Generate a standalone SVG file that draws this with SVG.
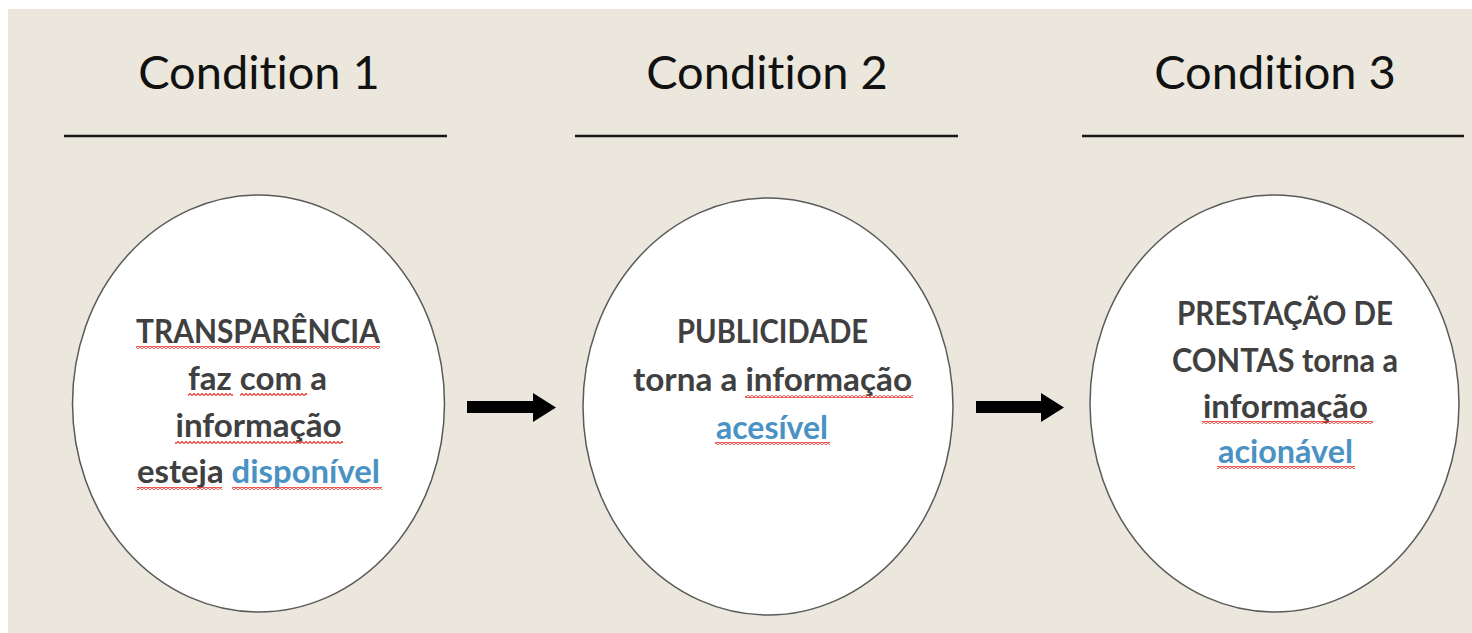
<svg xmlns="http://www.w3.org/2000/svg" width="1472" height="633" viewBox="0 0 1472 633">
  <defs>
    <style>
      .title { font-family: Lato, "Liberation Sans", sans-serif; font-size: 47px; fill: #111; text-anchor: middle; font-variant-ligatures: none; }
      .rule { stroke: #161616; stroke-width: 2.5; }
      .circle { fill: #ffffff; stroke: #5a5a5a; stroke-width: 1.5; }
      .body { font-family: Lato, "Liberation Sans", sans-serif; font-weight: bold; font-size: 33px; fill: #404040; text-anchor: middle; font-variant-ligatures: none; }
      .blue { fill: #4a92c4; }
      .arrow { fill: #000; }
      .sq { fill: url(#squig); }
    </style>
    <pattern id="squig" x="0" y="0" width="4" height="3" patternUnits="userSpaceOnUse">
      <path d="M0,2.5 L2,0.5 L4,2.5" fill="none" stroke="#e8312a" stroke-width="1.1"/>
    </pattern>
  </defs>

  <rect x="0" y="0" width="1472" height="633" fill="#ffffff"/>
  <rect x="8" y="9" width="1464" height="624" fill="#ebe7dc"/>

  <g id="header-1">
    <text class="title" x="259" y="89">Condition 1</text>
    <line class="rule" x1="64" y1="136" x2="447" y2="136"/>
  </g>
  <g id="header-2">
    <text class="title" x="767" y="89">Condition 2</text>
    <line class="rule" x1="575" y1="136" x2="958" y2="136"/>
  </g>
  <g id="header-3">
    <text class="title" x="1275" y="89">Condition 3</text>
    <line class="rule" x1="1082" y1="136" x2="1464" y2="136"/>
  </g>

  <g id="node-transparencia">
    <ellipse class="circle" cx="258.5" cy="403.5" rx="186" ry="208.5"/>
    <text class="body" x="258" y="343" textLength="244" lengthAdjust="spacingAndGlyphs">TRANSPARÊNCIA</text>
    <text class="body" x="257.5" y="390" textLength="139" lengthAdjust="spacingAndGlyphs">faz com a</text>
    <text class="body" x="258.5" y="437" textLength="166" lengthAdjust="spacingAndGlyphs">informação</text>
    <text class="body" x="258.5" y="483" textLength="243" lengthAdjust="spacingAndGlyphs">esteja <tspan class="blue">disponível</tspan></text>
    <rect class="sq" x="136" y="346" width="244" height="3"/>
    <rect class="sq" x="188" y="393" width="45" height="3"/>
    <rect class="sq" x="240" y="393" width="67" height="3"/>
    <rect class="sq" x="175" y="441" width="168" height="3"/>
    <rect class="sq" x="137" y="487" width="85" height="3"/>
    <rect class="sq" x="232" y="487" width="150" height="3"/>
  </g>

  <g id="node-publicidade">
    <ellipse class="circle" cx="768" cy="406.5" rx="185" ry="208.5"/>
    <text class="body" x="772.5" y="343" textLength="191" lengthAdjust="spacingAndGlyphs">PUBLICIDADE</text>
    <text class="body" x="772.5" y="391" textLength="279" lengthAdjust="spacingAndGlyphs">torna a informação</text>
    <text class="body blue" x="772" y="439" textLength="112" lengthAdjust="spacingAndGlyphs">acesível</text>
    <rect class="sq" x="745" y="395" width="168" height="3"/>
    <rect class="sq" x="715" y="442" width="115" height="3"/>
  </g>

  <g id="node-prestacao">
    <ellipse class="circle" cx="1274.5" cy="403.5" rx="184.5" ry="208.5"/>
    <text class="body" x="1285" y="325" textLength="216" lengthAdjust="spacingAndGlyphs">PRESTAÇÃO DE</text>
    <text class="body" x="1285" y="372" textLength="226" lengthAdjust="spacingAndGlyphs">CONTAS torna a</text>
    <text class="body" x="1285.5" y="418" textLength="165" lengthAdjust="spacingAndGlyphs">informação</text>
    <text class="body blue" x="1285.5" y="463" textLength="135" lengthAdjust="spacingAndGlyphs">acionável</text>
    <rect class="sq" x="1202" y="421" width="171" height="3"/>
    <rect class="sq" x="1217" y="466" width="138" height="3"/>
  </g>

  <g id="connectors">
    <path class="arrow" d="M467,401 H533 V393 L556,407.5 L533,422 V413 H467 Z"/>
    <path class="arrow" d="M976,401 H1041 V393 L1064,407.5 L1041,422 V413 H976 Z"/>
  </g>
</svg>
